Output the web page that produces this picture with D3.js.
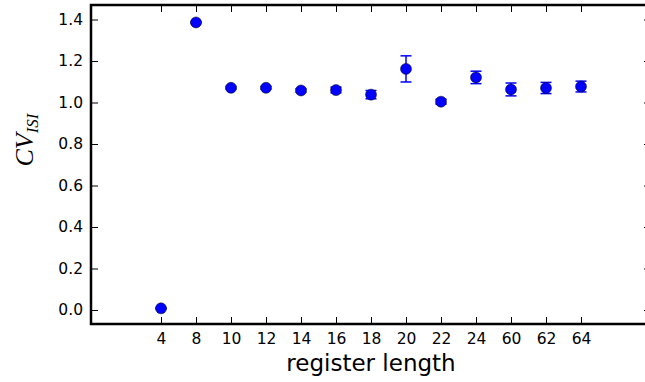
<!DOCTYPE html>
<html>
<head>
<meta charset="utf-8">
<script src="https://cdn.jsdelivr.net/npm/d3@7"></script>
<style>
  body { margin: 0; background: #fff; }
  svg { display: block; font-family: "DejaVu Sans", sans-serif; }
</style>
</head>
<body>
<div id="chart"></div>
<script>
// register lengths (categorical, evenly spaced)
const lengths = [4, 8, 10, 12, 14, 16, 18, 20, 22, 24, 60, 62, 64];
const cvMean = [0.008, 1.386, 1.071, 1.071, 1.058, 1.060, 1.038, 1.162, 1.004, 1.121, 1.063, 1.070, 1.077];
const cvErr  = [0.002, 0.004, 0.006, 0.006, 0.008, 0.014, 0.020, 0.063, 0.012, 0.030, 0.031, 0.027, 0.026];
const yTicks = [0.0, 0.2, 0.4, 0.6, 0.8, 1.0, 1.2, 1.4];

const width = 645, height = 382;
const margin = {left: 91, top: 5, right: 651, bottom: 324};

const svg = d3.select('#chart')
              .append('svg')
              .attr('width', width)
              .attr('height', height);

// x positions by index, limits -2 .. 14 like the original
const xScale = d3.scaleLinear()
                 .domain([-2, 14])
                 .range([margin.left, margin.right]);

const yScale = d3.scaleLinear()
                 .domain([-0.0675, 1.47])
                 .range([margin.bottom, margin.top]);

const data = lengths.map((d, i) => ({len: d, i: i, y: cvMean[i], e: cvErr[i]}));

const tickLen = 7;

// bottom axis
const xAxis = d3.axisBottom(xScale)
                .tickValues(d3.range(lengths.length))
                .tickFormat(i => lengths[i])
                .tickSizeInner(-tickLen)
                .tickSizeOuter(0)
                .tickPadding(9);
const gx = svg.append('g')
              .attr('transform', `translate(0,${margin.bottom})`)
              .call(xAxis);

// top ticks
const gxTop = svg.append('g')
                 .attr('transform', `translate(0,${margin.top})`)
                 .call(d3.axisTop(xScale)
                         .tickValues(d3.range(lengths.length))
                         .tickFormat('')
                         .tickSizeInner(-tickLen)
                         .tickSizeOuter(0));

// left axis
const gy = svg.append('g')
              .attr('transform', `translate(${margin.left},0)`)
              .call(d3.axisLeft(yScale)
                      .tickValues(yTicks)
                      .tickFormat(d3.format('.1f'))
                      .tickSizeInner(-tickLen)
                      .tickSizeOuter(0)
                      .tickPadding(8));

// right ticks
const gyRight = svg.append('g')
                   .attr('transform', `translate(${margin.right},0)`)
                   .call(d3.axisRight(yScale)
                           .tickValues(yTicks)
                           .tickFormat('')
                           .tickSizeInner(-tickLen)
                           .tickSizeOuter(0));

[gx, gxTop, gy, gyRight].forEach(g => {
    g.select('.domain').remove();
    g.selectAll('.tick line').attr('stroke', '#000').attr('stroke-width', 1);
    g.selectAll('.tick text')
     .attr('fill', '#000')
     .style('font-family', '"DejaVu Sans", sans-serif')
     .style('font-size', '15.5px');
});

// frame
svg.append('rect')
   .attr('x', margin.left)
   .attr('y', margin.top)
   .attr('width', margin.right - margin.left)
   .attr('height', margin.bottom - margin.top)
   .attr('fill', 'none')
   .attr('stroke', '#000')
   .attr('stroke-width', 2.5);

// error bars
const capW = 5.5;
const err = svg.append('g')
               .attr('stroke', '#0000ff')
               .attr('stroke-width', 1.5);

err.selectAll('line.bar')
   .data(data)
   .enter()
   .append('line')
   .attr('class', 'bar')
   .attr('x1', d => xScale(d.i))
   .attr('x2', d => xScale(d.i))
   .attr('y1', d => yScale(d.y - d.e))
   .attr('y2', d => yScale(d.y + d.e));

['lo', 'hi'].forEach(k => {
    err.selectAll('line.cap-' + k)
       .data(data)
       .enter()
       .append('line')
       .attr('class', 'cap-' + k)
       .attr('x1', d => xScale(d.i) - capW)
       .attr('x2', d => xScale(d.i) + capW)
       .attr('y1', d => yScale(k === 'lo' ? d.y - d.e : d.y + d.e))
       .attr('y2', d => yScale(k === 'lo' ? d.y - d.e : d.y + d.e));
});

// points
svg.selectAll('circle.pt')
   .data(data)
   .enter()
   .append('circle')
   .attr('class', 'pt')
   .attr('cx', d => xScale(d.i))
   .attr('cy', d => yScale(d.y))
   .attr('r', 5.5)
   .attr('fill', '#0000ff')
   .attr('stroke', '#000')
   .attr('stroke-width', 0.5);

// x label
svg.append('text')
   .attr('x', (margin.left + margin.right) / 2)
   .attr('y', 371)
   .attr('text-anchor', 'middle')
   .style('font-size', '23px')
   .text('register length');

// y label CV_ISI
const yl = svg.append('text')
              .attr('transform', 'translate(33,140) rotate(-90)')
              .attr('text-anchor', 'middle')
              .style('font-family', '"Liberation Serif", "DejaVu Serif", serif')
              .style('font-style', 'italic');
yl.append('tspan').style('font-size', '26px').text('CV');
yl.append('tspan').attr('dy', 5).style('font-size', '17px').text('ISI');
</script>
</body>
</html>
